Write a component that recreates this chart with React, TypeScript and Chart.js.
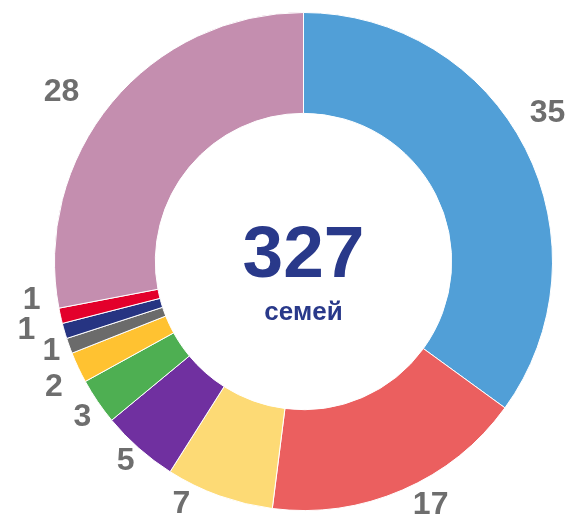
import React, { useEffect, useRef } from "react";
import { Chart, registerables } from "chart.js";

Chart.register(...registerables);

const categories = ["Группа 1", "Группа 2", "Группа 3", "Группа 4", "Группа 5", "Группа 6", "Группа 7", "Группа 8", "Группа 9", "Группа 10"];
const values = [35, 17, 7, 5, 3, 2, 1, 1, 1, 28];
const colors = ["#519FD7", "#EB5F5F", "#FDDA75", "#7030A0", "#4EAF52", "#FFC231", "#6B6B6B", "#263482", "#E3002B", "#C48EAF"];
const centerValue = "327";
const centerCaption = "семей";

// label layout tweaks (angle shift in degrees, distance beyond outer edge in px)
const labelAngleShift = [-4.3, -4.2, 6.9, 0.3, -1.0, -1.6, 0.3, 2.2, 4.6, -4.6];
const labelExtra = [36.5, 25.4, 23, 18.5, 21.5, 30.5, 18.5, 36.5, 25.5, 46.5];

const FONT = '"Liberation Sans", Arial, sans-serif';

const labelsPlugin = {
  id: "outerLabels",
  afterDatasetsDraw(chart: any) {
    const ctx = chart.ctx;
    const meta = chart.getDatasetMeta(0);
    ctx.save();
    ctx.fillStyle = "#6E6E6E";
    ctx.font = `bold 32px ${FONT}`;
    ctx.textAlign = "center";
    ctx.textBaseline = "middle";
    meta.data.forEach((arc: any, i: number) => {
      const p = arc.getProps(["startAngle", "endAngle", "x", "y", "outerRadius"], true);
      const a = (p.startAngle + p.endAngle) / 2 + (labelAngleShift[i] * Math.PI) / 180;
      const r = p.outerRadius + labelExtra[i];
      ctx.fillText(String(values[i]), p.x + r * Math.cos(a), p.y + r * Math.sin(a));
    });
    const arc0 = meta.data[0];
    const cx = arc0.x;
    const cy = arc0.y;
    ctx.fillStyle = "#29398A";
    ctx.textBaseline = "alphabetic";
    ctx.font = `bold 73px ${FONT}`;
    ctx.fillText(centerValue, cx, cy + 15);
    ctx.font = `bold 26px ${FONT}`;
    ctx.fillText(centerCaption, cx, cy + 58);
    ctx.restore();
  },
};

export default function App() {
  const ref = useRef<HTMLCanvasElement>(null);
  useEffect(() => {
    if (!ref.current) return;
    const chart = new Chart(ref.current, {
      type: "doughnut",
      data: {
        labels: categories,
        datasets: [
          {
            data: values,
            backgroundColor: colors,
            borderColor: "#FFFFFF",
            borderWidth: 1,
          },
        ],
      },
      options: {
        responsive: false,
        animation: false,
        cutout: "59.5%",
        layout: { padding: { left: 54, right: 21, top: 12, bottom: 7 } },
        plugins: {
          legend: { display: false },
          tooltip: { enabled: false },
        },
      },
      plugins: [labelsPlugin],
    });
    return () => chart.destroy();
  }, []);
  return (
    <div style={{ position: "fixed", left: 0, top: 0, width: 574, height: 518, background: "#fff" }}>
      <canvas ref={ref} width={574} height={518} style={{ width: 574, height: 518, display: "block" }} />
    </div>
  );
}
